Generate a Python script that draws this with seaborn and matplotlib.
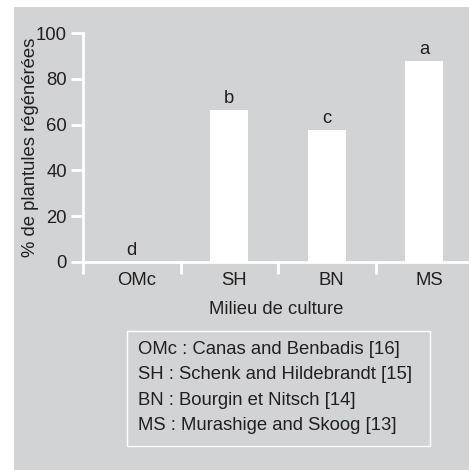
import matplotlib
matplotlib.use("Agg")
import matplotlib.pyplot as plt
from matplotlib.patches import Rectangle
import seaborn as sns
import pandas as pd

# data
milieux = ["OMc", "SH", "BN", "MS"]
pct_regen = [0, 66.5, 57.6, 87.8]
lettres = ["d", "b", "c", "a"]
legende = ["OMc : Canas and Benbadis [16]",
           "SH : Schenk and Hildebrandt [15]",
           "BN : Bourgin et Nitsch [14]",
           "MS : Murashige and Skoog [13]"]

df = pd.DataFrame({"milieu": milieux, "pct": pct_regen})

gris = "#d1d3d4"
encre = "#231f20"
fs = 13.3

sns.set_theme(style="ticks")
plt.rcParams["font.family"] = ["Liberation Sans", "DejaVu Sans"]
plt.rcParams["text.color"] = encre
plt.rcParams["axes.labelcolor"] = encre

W, H = 469, 470
fig = plt.figure(figsize=(W / 100, H / 100), dpi=100)
fig.patch.set_facecolor("white")
fig.patches.append(Rectangle((14 / W, 0), 1, 1 - 7 / H, transform=fig.transFigure,
                             facecolor=gris, edgecolor="none", zorder=-10))

x0, x1 = 83, 469
ytop, ybot = 33, 262
ax = fig.add_axes([x0 / W, 1 - ybot / H, (x1 - x0) / W, (ybot - ytop) / H])
ax.set_facecolor("none")

sns.barplot(data=df, x="milieu", y="pct", color="white", width=0.39,
            saturation=1, edgecolor="none", ax=ax)

# lettres de significativite
for i, (v, l) in enumerate(zip(pct_regen, lettres)):
    ax.text(i, v + 3, l, ha="center", va="baseline", fontsize=fs, color=encre)

cat_w = 97.5
ax.set_xlim(-0.5, -0.5 + (x1 - x0) / cat_w)
ax.set_ylim(0, 100)

for s in ["top", "right"]:
    ax.spines[s].set_visible(False)
for s in ["left", "bottom"]:
    ax.spines[s].set_color("white")
    ax.spines[s].set_linewidth(2)

ax.set_yticks([0, 20, 40, 60, 80, 100])
ax.tick_params(axis="y", direction="out", length=8.5, width=2, color="white",
               labelsize=fs, labelcolor=encre, pad=3)

ax.set_xticks([-0.5, 0.5, 1.5, 2.5])
ax.set_xticklabels([])
ax.set_xticks([i + 0.05 for i in range(len(milieux))], minor=True)
ax.set_xticklabels(milieux, minor=True)
ax.tick_params(axis="x", which="major", direction="out", length=8.5, width=2, color="white")
ax.tick_params(axis="x", which="minor", length=0, labelsize=fs, labelcolor=encre, pad=7)

ax.set_ylabel("% de plantules régénérées", fontsize=fs, labelpad=-2)
ax.set_xlabel("Milieu de culture", fontsize=fs, labelpad=9)

# boite de legende
bx0, by0, bx1, by1 = 127, 331, 430, 446
fig.patches.append(Rectangle((bx0 / W, 1 - by1 / H), (bx1 - bx0) / W, (by1 - by0) / H,
                             transform=fig.transFigure, facecolor="none",
                             edgecolor="white", linewidth=1))
for k, t in enumerate(legende):
    fig.text(138 / W, 1 - (349 + k * 25.6) / H, t, ha="left", va="center",
             fontsize=fs, color=encre)

fig.savefig("out.png", dpi=100)
